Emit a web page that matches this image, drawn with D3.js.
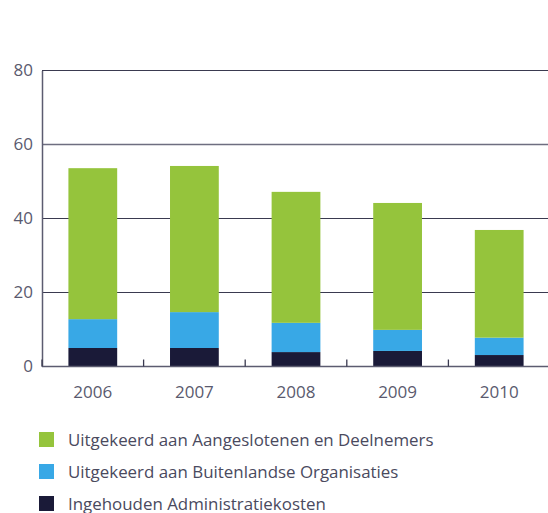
<!DOCTYPE html>
<html>
<head>
<meta charset="utf-8">
<script src="https://cdn.jsdelivr.net/npm/d3@7"></script>
<style>
  body { margin: 0; background: #fff; }
  svg { display: block; font-family: "Open Sans", sans-serif; }
</style>
</head>
<body>
<script>
// data
var years = ["2006", "2007", "2008", "2009", "2010"];
var administratie = [5.0, 5.0, 3.9, 4.2, 3.1];
var buitenland = [7.8, 9.7, 7.9, 5.7, 4.7];
var aangesloten = [40.8, 39.5, 35.4, 34.3, 29.1];
var yTicks = [0, 20, 40, 60, 80];

var seriesNames = ["Ingehouden Administratiekosten", "Uitgekeerd aan Buitenlandse Organisaties", "Uitgekeerd aan Aangeslotenen en Deelnemers"];
var seriesColors = ["#1a1a38", "#38a8e6", "#95c43c"];

var width = 548, height = 513;
var margin = {top: 70.5, right: -2, bottom: 146.5, left: 42};

var rows = years.map(function(y, i) {
  return {year: y, a: administratie[i], b: buitenland[i], c: aangesloten[i]};
});
var stack = d3.stack().keys(["a", "b", "c"])(rows);

var svg = d3.select("body").append("svg").attr("width", width).attr("height", height);

var x = d3.scaleBand().domain(years)
  .range([margin.left, width - margin.right])
  .paddingInner(0.52).paddingOuter(0.26);
var y = d3.scaleLinear().domain([0, 80]).range([height - margin.bottom, margin.top]);

// gridlines
svg.append("g").selectAll("line").data(yTicks.slice(1)).enter()
  .append("line")
  .attr("x1", margin.left).attr("x2", width)
  .attr("y1", function(d){return y(d);}).attr("y2", function(d){return y(d);})
  .attr("stroke", function(d){return d == 60 ? "#6e6e80" : "#3a3a50";})
  .attr("stroke-width", function(d){return d == 60 ? 1.5 : 1.2;});

// bars
svg.append("g").selectAll("g").data(stack).enter()
  .append("g").attr("fill", function(d, i){return seriesColors[i];})
  .selectAll("rect").data(function(d){return d;}).enter()
  .append("rect")
  .attr("x", function(d){return x(d.data.year);})
  .attr("width", x.bandwidth())
  .attr("y", function(d){return y(d[1]);})
  .attr("height", function(d){return y(d[0]) - y(d[1]);});

// y axis
var yAxis = svg.append("g").attr("transform", "translate(" + margin.left + ",0)")
  .call(d3.axisLeft(y).tickValues(yTicks).tickSize(0).tickPadding(9));
yAxis.select(".domain").attr("stroke", "#5c5c70").attr("stroke-width", 1.5);
yAxis.selectAll("text").attr("fill", "#5a5a6e").style("font-size", "17px")
  .style("font-family", "'Open Sans', sans-serif");

// x axis with separators between bands
var x0 = y(0);
svg.append("line").attr("x1", margin.left).attr("x2", width)
  .attr("y1", x0).attr("y2", x0)
  .attr("stroke", "#5c5c70").attr("stroke-width", 1.5);
var step = x.step();
var seps = years.map(function(d){return x(d) - x.paddingInner() * step / 2;});
svg.append("g").selectAll("line").data(seps).enter()
  .append("line")
  .attr("x1", function(d){return d;}).attr("x2", function(d){return d;})
  .attr("y1", x0).attr("y2", x0 - 7)
  .attr("stroke", "#3a3a50").attr("stroke-width", 1.3);

svg.append("g").selectAll("text").data(years).enter()
  .append("text")
  .attr("x", function(d){return x(d) + x.bandwidth() / 2;})
  .attr("y", 397.5)
  .attr("text-anchor", "middle")
  .attr("fill", "#5a5a6e")
  .style("font-size", "17px")
  .text(function(d){return d;});

// legend
var legendOrder = [2, 1, 0];
var lg = svg.append("g").selectAll("g").data(legendOrder).enter()
  .append("g")
  .attr("transform", function(d, i){return "translate(39," + (432 + i * 32) + ")";});
lg.append("rect").attr("width", 15).attr("height", 15)
  .attr("fill", function(d){return seriesColors[d];});
lg.append("text").attr("x", 29).attr("y", 14)
  .attr("fill", "#4a4a5e")
  .style("font-size", "16.9px")
  .text(function(d){return seriesNames[d];});
</script>
</body>
</html>
